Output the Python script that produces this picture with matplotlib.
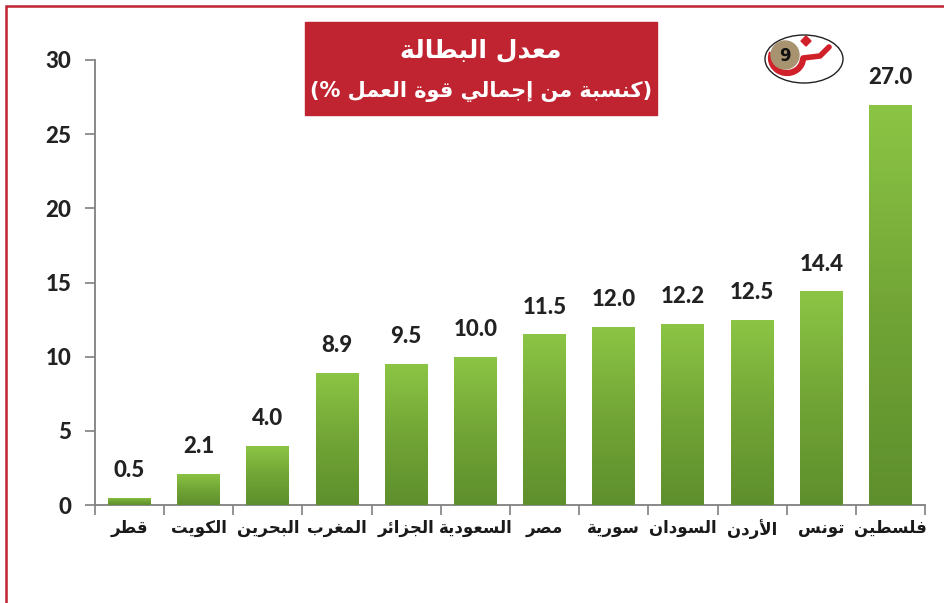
import numpy as np
import matplotlib
matplotlib.use("Agg")
import matplotlib.pyplot as plt
from matplotlib.patches import Rectangle, Ellipse, Circle, Arc, Polygon
from matplotlib.colors import LinearSegmentedColormap

countries = ["قطر", "الكويت", "البحرين", "المغرب", "الجزائر", "السعودية",
             "مصر", "سورية", "السودان", "الأردن", "تونس", "فلسطين"]
rates = [0.5, 2.1, 4.0, 8.9, 9.5, 10.0, 11.5, 12.0, 12.2, 12.5, 14.4, 27.0]
yticks = [0, 5, 10, 15, 20, 25, 30]
title_lines = ["معدل البطالة", "(كنسبة من إجمالي قوة العمل %)"]
badge_text = "9"

# arabic presentation forms: (isolated, final[, initial, medial])
FORMS = {
    'ا': ('\uFE8D', '\uFE8E'), 'أ': ('\uFE83', '\uFE84'), 'إ': ('\uFE87', '\uFE88'),
    'ب': ('\uFE8F', '\uFE90', '\uFE91', '\uFE92'), 'ة': ('\uFE93', '\uFE94'),
    'ت': ('\uFE95', '\uFE96', '\uFE97', '\uFE98'), 'ج': ('\uFE9D', '\uFE9E', '\uFE9F', '\uFEA0'),
    'ح': ('\uFEA1', '\uFEA2', '\uFEA3', '\uFEA4'),
    'د': ('\uFEA9', '\uFEAA'), 'ر': ('\uFEAD', '\uFEAE'), 'ز': ('\uFEAF', '\uFEB0'),
    'س': ('\uFEB1', '\uFEB2', '\uFEB3', '\uFEB4'), 'ص': ('\uFEB9', '\uFEBA', '\uFEBB', '\uFEBC'),
    'ط': ('\uFEC1', '\uFEC2', '\uFEC3', '\uFEC4'), 'ع': ('\uFEC9', '\uFECA', '\uFECB', '\uFECC'),
    'غ': ('\uFECD', '\uFECE', '\uFECF', '\uFED0'), 'ف': ('\uFED1', '\uFED2', '\uFED3', '\uFED4'),
    'ق': ('\uFED5', '\uFED6', '\uFED7', '\uFED8'), 'ك': ('\uFED9', '\uFEDA', '\uFEDB', '\uFEDC'),
    'ل': ('\uFEDD', '\uFEDE', '\uFEDF', '\uFEE0'), 'م': ('\uFEE1', '\uFEE2', '\uFEE3', '\uFEE4'),
    'ن': ('\uFEE5', '\uFEE6', '\uFEE7', '\uFEE8'), 'ه': ('\uFEE9', '\uFEEA', '\uFEEB', '\uFEEC'),
    'و': ('\uFEED', '\uFEEE'), 'ي': ('\uFEF1', '\uFEF2', '\uFEF3', '\uFEF4'),
    'ئ': ('\uFE89', '\uFE8A', '\uFE8B', '\uFE8C'),
}
LAM_ALEF = {'ا': ('\uFEFB', '\uFEFC'), 'أ': ('\uFEF7', '\uFEF8'),
            'إ': ('\uFEF9', '\uFEFA'), 'آ': ('\uFEF5', '\uFEF6')}


def shape(s):
    # join letters and flip to visual order (no numbers inside, so a plain reverse is enough)
    res = []
    i = 0
    while i < len(s):
        c = s[i]
        if c not in FORMS:
            res.append(c)
            i += 1
            continue
        prev = s[i - 1] if i > 0 else ''
        link_prev = prev in FORMS and len(FORMS[prev]) == 4
        if c == 'ل' and i + 1 < len(s) and s[i + 1] in LAM_ALEF:
            iso, fin = LAM_ALEF[s[i + 1]]
            res.append(fin if link_prev else iso)
            i += 2
            continue
        nxt = s[i + 1] if i + 1 < len(s) else ''
        f = FORMS[c]
        link_next = len(f) == 4 and nxt in FORMS
        if link_prev and link_next:
            g = f[3]
        elif link_prev:
            g = f[1]
        elif link_next:
            g = f[2]
        else:
            g = f[0]
        res.append(g)
        i += 1
    vis = ''.join(reversed(res))
    return vis.translate(str.maketrans('()', ')('))


W, H = 945, 603
fig = plt.figure(figsize=(W / 100, H / 100), dpi=100)
fig.patch.set_facecolor("white")

ax = fig.add_axes([95 / W, (H - 505) / H, 830 / W, 445 / H])
x = np.arange(len(countries))
bars = ax.bar(x, rates, width=0.62, color="#72a636", zorder=2)

green = LinearSegmentedColormap.from_list("g", ["#5e8f2d", "#72a536", "#8cc545"])
grad = np.linspace(0, 1, 256).reshape(-1, 1)
for b in bars:
    x0, w, h = b.get_x(), b.get_width(), b.get_height()
    im = ax.imshow(grad, extent=[x0, x0 + w, 0, h], origin="lower", aspect="auto",
                   cmap=green, zorder=3)
    im.set_clip_path(b)

num_font = dict(family="Lato", fontweight="black", color="#222222")
for xi, v in zip(x, rates):
    ax.annotate(f"{v:.1f}", (xi, v), xytext=(0, 15), textcoords="offset points",
                ha="center", va="baseline", fontsize=16, **num_font)

ax.set_xlim(-0.5, len(countries) - 0.5)
ax.set_ylim(0, 30)
ax.set_aspect("auto")

axis_grey = "#808080"
for side in ["top", "right"]:
    ax.spines[side].set_visible(False)
for side in ["left", "bottom"]:
    ax.spines[side].set_color(axis_grey)
    ax.spines[side].set_linewidth(1.3)

ax.set_yticks(yticks)
ax.set_yticklabels([str(t) for t in yticks], fontsize=16, **num_font)
ax.tick_params(axis="y", length=7, width=1.2, color=axis_grey, pad=10)

ax.set_xticks(x)
ax.set_xticklabels([shape(c) for c in countries], fontsize=12, fontweight="bold",
                   family="DejaVu Sans", color="#1a1a1a")
ax.set_xticks(np.arange(-0.5, len(countries), 1.0), minor=True)
ax.tick_params(axis="x", which="major", length=0, pad=10)
ax.tick_params(axis="x", which="minor", length=7, width=1.2, color=axis_grey)

# overlay in pixel coords for the title box, logo and frame
ov = fig.add_axes([0, 0, 1, 1], zorder=5)
ov.set_xlim(0, W)
ov.set_ylim(H, 0)
ov.axis("off")
ov.patch.set_alpha(0)

red = "#bf2430"
ov.plot([6, 6, W], [H, 6, 6], color=red, lw=1.8, solid_joinstyle="miter")

ov.add_patch(Rectangle((305, 22), 352, 93, color=red))
ov.text(481, 50, shape(title_lines[0]), ha="center", va="center", color="white",
        fontsize=18, fontweight="bold", family="DejaVu Sans")
ov.text(481, 92, shape(title_lines[1]), ha="center", va="center", color="white",
        fontsize=15, fontweight="bold", family="DejaVu Sans")

# logo
ov.add_patch(Ellipse((804, 59), 78, 48, fill=False, ec="#222222", lw=1.0))
ov.add_patch(Arc((787, 58), 32, 30, theta1=0, theta2=200, color="#d0202a", lw=4.5))
ov.plot([803, 820, 829], [58, 56, 47], color="#d0202a", lw=4, solid_capstyle="round")
ov.add_patch(Polygon([(806, 36), (811, 41), (806, 46), (801, 41)], color="#d0202a"))
ov.add_patch(Circle((785, 55), 14, color="#a89371"))
ov.text(785, 56, badge_text, ha="center", va="center", fontsize=12,
        fontweight="bold", family="DejaVu Sans", color="#111111")

fig.savefig("out.png", dpi=100)
